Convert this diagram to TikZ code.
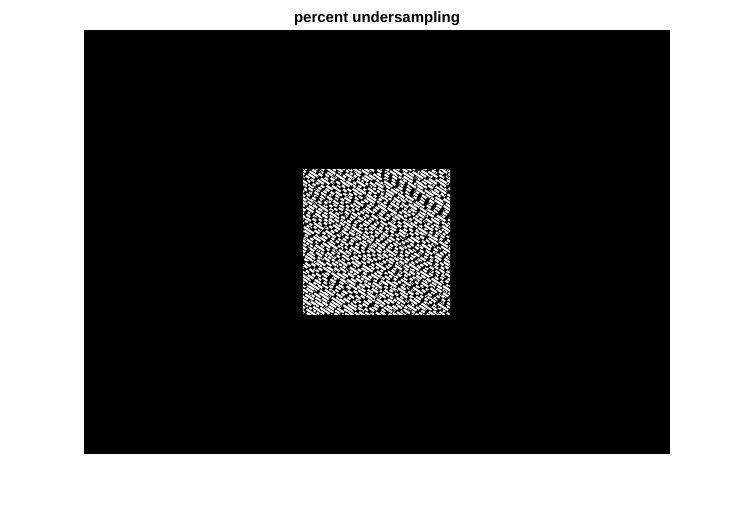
\documentclass[tikz,border=0pt]{standalone}
\usepackage{fontspec}
\setmainfont{Liberation Sans}
\begin{document}
\begin{tikzpicture}[x=1pt,y=-1pt,
    streak/.style={white,line width=2.1pt,line cap=butt},
    titlebox/.style={font=\bfseries\fontsize{15}{18}\selectfont,inner sep=0pt,anchor=base}]
    \pgfmathsetseed{7}
    \useasboundingbox (0,0) rectangle (756,515);
    \coordinate (ax0) at (84,30);
    \coordinate (ax1) at (670,454);
    \coordinate (sq0) at (303,169);
    \coordinate (sq1) at (450,314);
    \fill[black] (ax0) rectangle (ax1);
    \node[titlebox] (title) at (377,22) {percent undersampling};
    % sampled region
    \begin{scope}
      \clip (sq0) rectangle (sq1);
      \foreach \k in {0,...,80} {
        \pgfmathsetmacro\on{3+10*rnd}
        \pgfmathsetmacro\off{1+3*rnd}
        \pgfmathsetmacro\ph{20*rnd}
        \draw[streak,dash pattern=on \on pt off \off pt,dash phase=\ph pt]
          (290,50+\k*3.5) -- ++(200,130);
      }
      \foreach \k in {0,...,40} {
        \pgfmathsetmacro\on{1+3*rnd}
        \pgfmathsetmacro\off{2+6*rnd}
        \pgfmathsetmacro\ph{20*rnd}
        \draw[black,line width=0.9pt,dash pattern=on \on pt off \off pt,dash phase=\ph pt]
          (290,20+\k*7.3) -- ++(200,180);
      }
    \end{scope}
\end{tikzpicture}
\end{document}
